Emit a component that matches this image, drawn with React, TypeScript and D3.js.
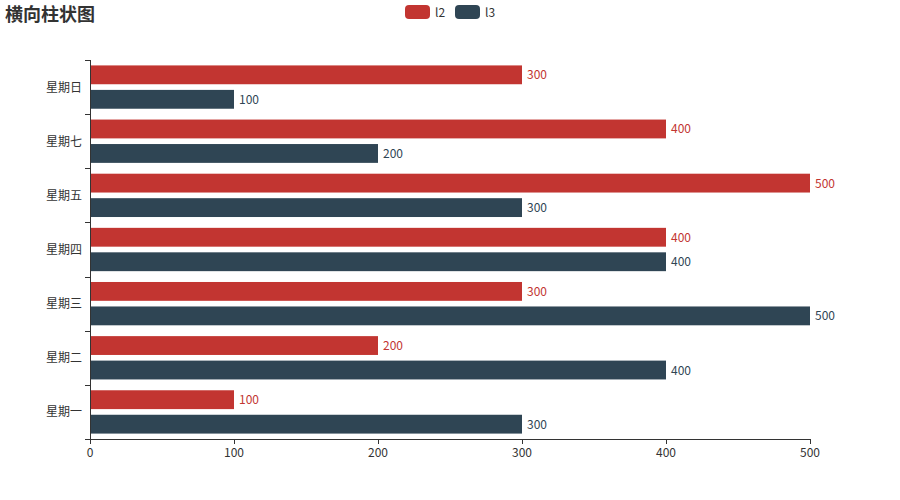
import React from 'react'
import { scaleLinear, scaleBand } from 'd3'

const categories = ['星期一', '星期二', '星期三', '星期四', '星期五', '星期六', '星期日']
const categoryLabels = ['星期一', '星期二', '星期三', '星期四', '星期五', '星期七', '星期日']
const seriesNames = ['l2', 'l3']
const l2Values = [100, 200, 300, 400, 500, 400, 300]
const l3Values = [300, 400, 500, 400, 300, 200, 100]
const xTicks = [0, 100, 200, 300, 400, 500]
const colors = ['#c23531', '#2f4554']

const font = '"Noto Sans CJK SC", "Noto Sans", sans-serif'

const App = () => {
  const width = 900
  const height = 500
  const left = 90
  const right = 810
  const top = 60
  const bottom = 439

  const x = scaleLinear().domain([0, 500]).range([left, right])
  // bottom category first, like echarts
  const y = scaleBand().domain(categories).range([bottom, top])
  const bw = y.bandwidth()
  const inner = bw * 0.8
  const barH = inner / 2.3
  const gap = barH * 0.3

  const series = [l2Values, l3Values]

  // legend layout, centered
  const textW = 10
  const itemW = 25 + 5 + textW
  const legendW = itemW * 2 + 10
  const legendX = width / 2 - legendW / 2

  return (
    <svg width={width} height={height} style={{ position: 'absolute', left: 0, top: 0, fontFamily: font }}>
      <rect width={width} height={height} fill="#fff" />
      <text x={5} y={21} fontSize={18} fontWeight="bold" fill="#333">横向柱状图</text>

      {seriesNames.map((name, i) => {
        const lx = legendX + i * (itemW + 10)
        return (
          <g key={name}>
            <rect x={lx} y={5} width={25} height={14} rx={4} fill={colors[i]} />
            <text x={lx + 30} y={16.5} fontSize={12} fill="#333">{name}</text>
          </g>
        )
      })}

      {categories.map((c, ci) => {
        const y0 = (y(c) as number) + bw * 0.1
        return series.map((vals, si) => {
          // in echarts horizontal bars, first series is on top
          const by = y0 + si * (barH + gap)
          return (
            <g key={c + si}>
              <rect x={x(0)} y={by} width={x(vals[ci]) - x(0)} height={barH} fill={colors[si]} />
              <text x={x(vals[ci]) + 5} y={by + barH / 2 + 4.5} fontSize={12} fill={colors[si]}>{vals[ci]}</text>
            </g>
          )
        })
      })}

      {/* y axis */}
      <line x1={left + 0.5} x2={left + 0.5} y1={top} y2={bottom} stroke="#333" />
      {[...categories.map(c => y(c) as number), bottom].map((ty, i) => (
        <line key={i} x1={left - 5} x2={left} y1={Math.round(ty) + 0.5} y2={Math.round(ty) + 0.5} stroke="#333" />
      ))}
      {categories.map((c, i) => (
        <text key={c} x={left - 8} y={(y(c) as number) + bw / 2 + 4.5} fontSize={12} fill="#333" textAnchor="end">
          {categoryLabels[i]}
        </text>
      ))}

      {/* x axis */}
      <line x1={left} x2={right} y1={bottom + 0.5} y2={bottom + 0.5} stroke="#333" />
      {xTicks.map(t => (
        <g key={t}>
          <line x1={Math.round(x(t)) + 0.5} x2={Math.round(x(t)) + 0.5} y1={bottom} y2={bottom + 5} stroke="#333" />
          <text x={x(t)} y={bottom + 18} fontSize={12} fill="#333" textAnchor="middle">{t}</text>
        </g>
      ))}
    </svg>
  )
}

export default App
